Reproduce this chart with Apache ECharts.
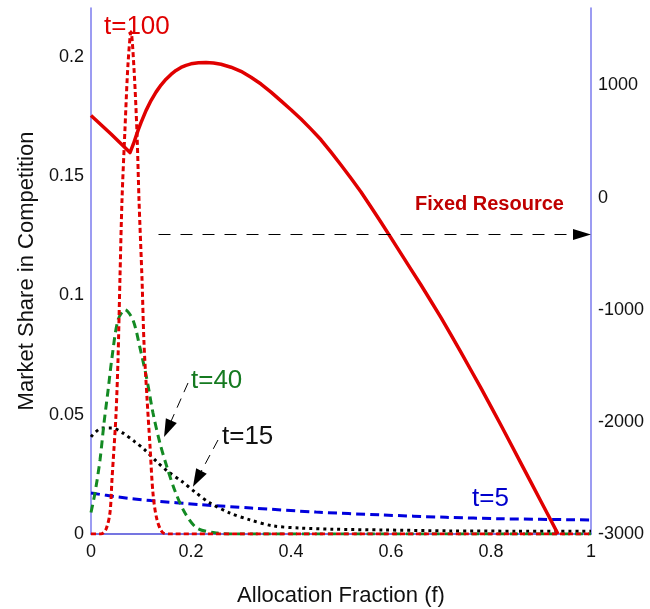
<!DOCTYPE html>
<html>
<head>
<meta charset="utf-8">
<script src="https://cdn.jsdelivr.net/npm/echarts@6/dist/echarts.min.js"></script>
<style>
  html, body { margin: 0; padding: 0; background: #fff; }
  #main { width: 650px; height: 609px; }
</style>
</head>
<body>
<div id="main"></div>
<script>
// x values: allocation fraction f
var xTicks = [0, 0.2, 0.4, 0.6, 0.8, 1];
var leftTicks = [0, 0.05, 0.1, 0.15, 0.2];
var rightTicks = [-3000, -2000, -1000, 0, 1000];

// fixed resource curve (right axis)
var fixedResource = [
    [0, 731], [0.04, 566], [0.078, 401], [0.085, 480], [0.09, 545], [0.095, 610],
    [0.1, 668], [0.11, 775], [0.12, 865], [0.13, 940], [0.14, 1003], [0.15, 1055],
    [0.16, 1098], [0.17, 1133], [0.18, 1160], [0.19, 1179], [0.2, 1192],
    [0.215, 1201], [0.23, 1203], [0.245, 1199], [0.26, 1188], [0.28, 1162],
    [0.3, 1125], [0.32, 1072], [0.34, 1012], [0.36, 940], [0.38, 862], [0.4, 783],
    [0.42, 700], [0.44, 610], [0.46, 515], [0.48, 405], [0.5, 290], [0.52, 172],
    [0.54, 50], [0.56, -85], [0.58, -220], [0.6, -360], [0.62, -500],
    [0.64, -640], [0.66, -780], [0.68, -925], [0.7, -1070], [0.72, -1225],
    [0.74, -1380], [0.76, -1540], [0.78, -1700], [0.8, -1865], [0.82, -2030],
    [0.84, -2200], [0.86, -2370], [0.88, -2540], [0.9, -2710], [0.92, -2880],
    [0.934, -3000]
];

// market share curves (left axis)
var t100 = [
    [0, 0], [0.02, 0], [0.03, 0.002], [0.038, 0.009], [0.042, 0.023],
    [0.046, 0.036], [0.05, 0.05], [0.054, 0.073], [0.058, 0.108], [0.062, 0.14],
    [0.068, 0.17], [0.074, 0.197], [0.08, 0.2105], [0.086, 0.195], [0.092, 0.168],
    [0.096, 0.14], [0.102, 0.107], [0.106, 0.08], [0.112, 0.057], [0.118, 0.037],
    [0.124, 0.017], [0.132, 0.006], [0.144, 0.0005], [0.16, 0], [0.3, 0],
    [0.5, 0], [0.7, 0], [1, 0]
];
var t40 = [
    [0, 0.009], [0.008, 0.0172], [0.018, 0.031], [0.026, 0.0465], [0.034, 0.06],
    [0.042, 0.074], [0.054, 0.0897], [0.068, 0.094], [0.084, 0.0897], [0.098, 0.078],
    [0.112, 0.0646], [0.124, 0.0507], [0.138, 0.038], [0.152, 0.028], [0.168, 0.018],
    [0.188, 0.0088], [0.212, 0.0025], [0.252, 0.0004], [0.3, 0], [0.5, 0], [1, 0]
];
var t15 = [
    [0, 0.0407], [0.022, 0.0444], [0.042, 0.0444], [0.064, 0.0423], [0.088, 0.0386],
    [0.108, 0.0352], [0.132, 0.0302], [0.154, 0.0262], [0.182, 0.022], [0.208, 0.0176],
    [0.238, 0.013], [0.278, 0.0088], [0.318, 0.0059], [0.364, 0.0034], [0.418, 0.0025],
    [0.484, 0.002], [0.584, 0.0017], [0.718, 0.0013], [0.85, 0.0012], [1, 0.0012]
];
var t5 = [
    [0, 0.0172], [0.054, 0.0155], [0.12, 0.014], [0.22, 0.0123], [0.32, 0.0109],
    [0.45, 0.0092], [0.58, 0.008], [0.71, 0.007], [0.82, 0.0064], [1, 0.0059]
];

var font = 'Liberation Sans, Arial, sans-serif';
var axisBlue = '#7b7bee';

function plainLabel(v) { return String(v); }

var myChart = echarts.init(document.getElementById('main'));

var option = {
    backgroundColor: '#fff',
    animation: false,
    grid: { left: 91, right: 59, top: 8, bottom: 75, outerBoundsMode: 'none', containLabel: false },
    xAxis: {
        type: 'value', min: 0, max: 1, interval: 0.2,
        name: 'Allocation Fraction (f)', nameLocation: 'middle', nameGap: 51,
        nameTextStyle: { fontFamily: font, fontSize: 22, color: '#111' },
        axisLine: { show: true, onZero: false, lineStyle: { color: '#4848d8', width: 1.5 } },
        axisTick: { show: false },
        splitLine: { show: false },
        axisLabel: { fontFamily: font, fontSize: 18, color: '#111', margin: 9, formatter: plainLabel }
    },
    yAxis: [{
        type: 'value', min: 0, max: 0.2205, interval: 0.05,
        name: 'Market Share in Competition', nameLocation: 'middle', nameGap: 51,
        nameTextStyle: { fontFamily: font, fontSize: 22, color: '#111' },
        axisLine: { show: true, lineStyle: { color: axisBlue, width: 1.5 } },
        axisTick: { show: false },
        splitLine: { show: false },
        axisLabel: { fontFamily: font, fontSize: 18, color: '#111', margin: 7,
            showMaxLabel: false, formatter: plainLabel }
    }, {
        type: 'value', min: -3000, max: 1690, interval: 1000,
        position: 'right',
        axisLine: { show: true, lineStyle: { color: axisBlue, width: 1.5 } },
        axisTick: { show: false },
        splitLine: { show: false },
        axisLabel: { fontFamily: font, fontSize: 18, color: '#111', margin: 7,
            showMaxLabel: false, formatter: plainLabel }
    }],
    series: [{
        name: 't=5', type: 'line', data: t5, yAxisIndex: 0, showSymbol: false, smooth: 0.3,
        lineStyle: { color: '#0000dd', width: 3, type: [9, 5] }
    }, {
        name: 't=15', type: 'line', data: t15, yAxisIndex: 0, showSymbol: false, smooth: 0.3,
        lineStyle: { color: '#000', width: 3, type: [3, 4] },
        markLine: {
            silent: true, symbol: ['none', 'triangle'], symbolSize: [12, 18],
            label: { show: false },
            lineStyle: { color: '#000', width: 1, type: [10, 7] },
            data: [
                [{ coord: [0.254, 0.0394] }, { coord: [0.2124, 0.0231] }],
                [{ coord: [0.194, 0.0633] }, { coord: [0.1534, 0.0441] }]
            ]
        }
    }, {
        name: 't=40', type: 'line', data: t40, yAxisIndex: 0, showSymbol: false, smooth: 0.3,
        lineStyle: { color: '#138a23', width: 3, type: [8, 5] }
    }, {
        name: 't=100', type: 'line', data: t100, yAxisIndex: 0, showSymbol: false, smooth: 0.3,
        lineStyle: { color: '#e00000', width: 3, type: [5, 3] }
    }, {
        name: 'Fixed Resource', type: 'line', data: fixedResource, yAxisIndex: 1,
        showSymbol: false, smooth: false,
        lineStyle: { color: '#e00000', width: 3.5, join: 'round' },
        markLine: {
            silent: true, symbol: ['none', 'triangle'], symbolSize: [11, 18],
            label: { show: false },
            lineStyle: { color: '#000', width: 1, type: [12, 10] },
            data: [[{ coord: [0.135, -330] }, { coord: [0.982, -330] }]]
        }
    }],
    graphic: [
        { type: 'text', left: 104, top: 14, style: { text: 't=100', fill: '#e00000', font: '26px ' + font } },
        { type: 'text', left: 191, top: 368, style: { text: 't=40', fill: '#157a20', font: '26px ' + font } },
        { type: 'text', left: 222, top: 424, style: { text: 't=15', fill: '#111', font: '26px ' + font } },
        { type: 'text', left: 472, top: 486, style: { text: 't=5', fill: '#0000cc', font: '26px ' + font } },
        { type: 'text', left: 415, top: 194, style: { text: 'Fixed Resource', fill: '#c00000', font: 'bold 20px ' + font } }
    ]
};

myChart.setOption(option);
</script>
</body>
</html>
